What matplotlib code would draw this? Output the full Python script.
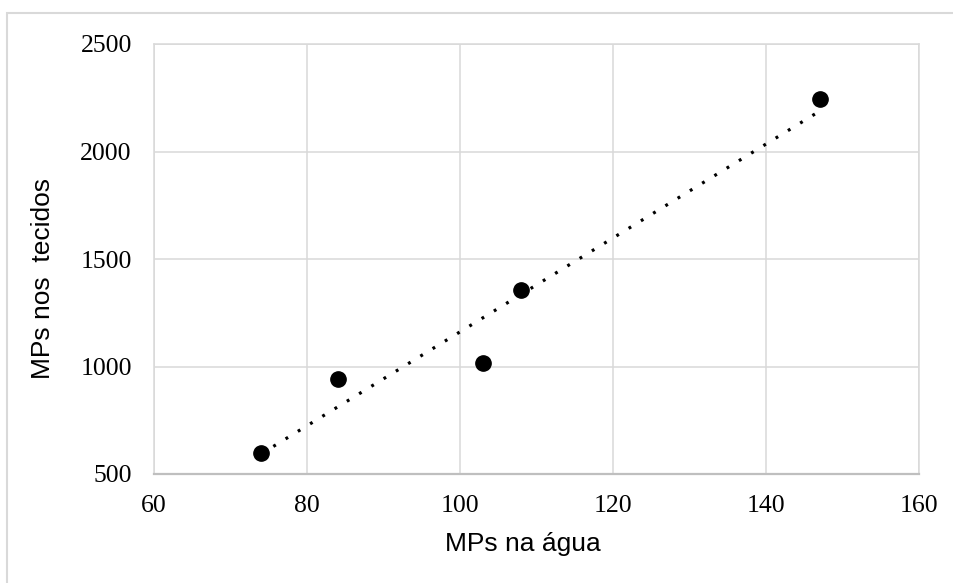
import numpy as np
import matplotlib
matplotlib.use("Agg")
import matplotlib.pyplot as plt
from matplotlib.patches import Rectangle

# Data
mps_agua = [74, 84, 103, 108, 147]
mps_tecidos = [600, 940, 1015, 1355, 2245]
x_ticks = [60, 80, 100, 120, 140, 160]
y_ticks = [500, 1000, 1500, 2000, 2500]
x_label = "MPs na água"
y_label = "MPs nos  tecidos"

W, H = 954, 583
fig = plt.figure(figsize=(W / 100, H / 100), dpi=100)

# outer chart-area border (light gray)
fig.patches.append(Rectangle((7 / W, -0.1), 1.2, (H - 13) / H + 0.1,
                             transform=fig.transFigure, fill=False,
                             edgecolor="#d9d9d9", linewidth=1.5, zorder=0))

ax = fig.add_axes([154 / W, (H - 474) / H, (919 - 154) / W, (474 - 44) / H])
ax.set_xlim(x_ticks[0], x_ticks[-1])
ax.set_ylim(y_ticks[0], y_ticks[-1])
ax.set_xticks(x_ticks)
ax.set_yticks(y_ticks)
ax.grid(True, color="#d9d9d9", linewidth=1.1)
ax.set_axisbelow(True)
for s in ["top", "right", "left"]:
    ax.spines[s].set_color("#d9d9d9")
    ax.spines[s].set_linewidth(1.1)
ax.spines["bottom"].set_color("#bfbfbf")
ax.spines["bottom"].set_linewidth(1.6)
ax.tick_params(length=0, labelsize=18.5, labelcolor="black")
ax.tick_params(axis="y", pad=16)
ax.tick_params(axis="x", pad=15)
for lab in ax.get_xticklabels() + ax.get_yticklabels():
    lab.set_fontfamily("Liberation Serif")

# trendline (linear fit)
xs = np.array(mps_agua, dtype=float)
ys = np.array(mps_tecidos, dtype=float)
k, b = np.polyfit(xs, ys, 1)
xt = np.array([xs.min(), xs.max()])
ax.plot(xt, k * xt + b, color="black", linewidth=2.3,
        linestyle=(0, (0.9, 3.6)), dash_capstyle="butt", zorder=2)

ax.plot(mps_agua, mps_tecidos, linestyle="none", marker="o",
        markersize=11, color="black", zorder=3)

ax.set_xlabel(x_label, fontsize=19, fontfamily="Liberation Sans")
ax.set_ylabel(y_label, fontsize=19, fontfamily="Liberation Sans")
ax.yaxis.set_label_coords(-(154 - 55) / (919 - 154), 1 - (278.5 - 44) / (474 - 44))
ax.xaxis.set_label_coords((523 - 154) / (919 - 154), -(532 - 474) / (474 - 44))

fig.savefig("out.png", dpi=100)
